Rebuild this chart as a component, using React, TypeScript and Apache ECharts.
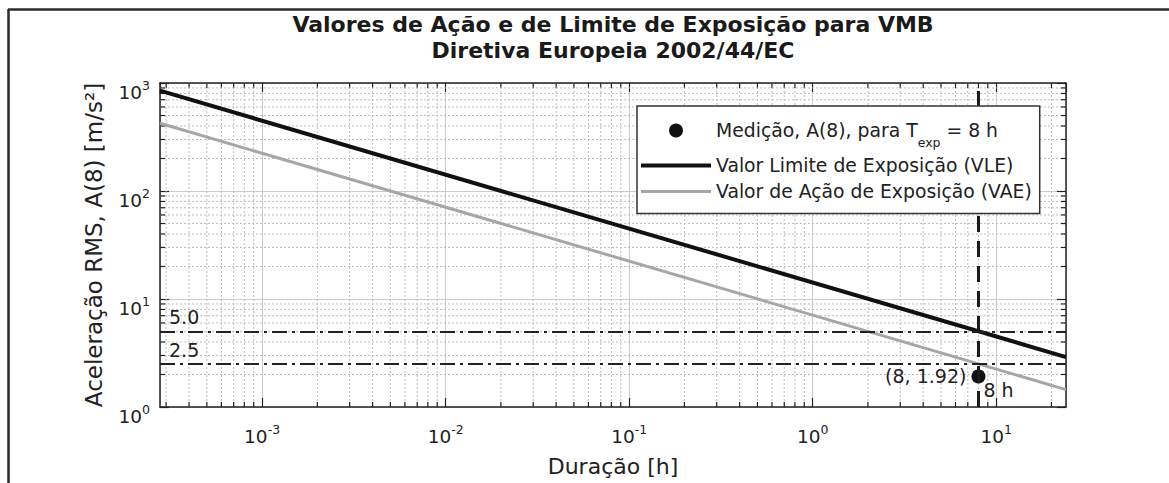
import React, { useEffect, useRef } from 'react';
import * as echarts from 'echarts';

// ---- data ----
const durationHours = [1 / 3600, 24];
const vleValues = [849, 2.9];
const vaeValues = [424, 1.45];
const measurementPoint = [8, 1.92];
const thresholdLevels = [5.0, 2.5];
const thresholdLabels = ['5.0', '2.5'];
const exposureTime = 8;
const exposureLabel = '8 h';
const xRange = [1 / 3600, 24];
const yRange = [1, 1000];
const xDecades = [1e-4, 1e-3, 1e-2, 1e-1, 1, 10];
const yDecades = [1, 10, 100];
const minorSteps = [2, 3, 4, 5, 6, 7, 8, 9];
const seriesNames = [
  'Medição, A(8), para Texp = 8 h',
  'Valor Limite de Exposição (VLE)',
  'Valor de Ação de Exposição (VAE)',
];
const titleLines = ['Valores de Ação e de Limite de Exposição para VMB', 'Diretiva Europeia 2002/44/EC'];
const xAxisName = 'Duração [h]';
const yAxisName = 'Aceleração RMS, A(8) [m/s²]';

const FONT = 'DejaVu Sans';
const INK = '#222222';

const xMinor = xDecades
  .flatMap((d) => minorSteps.map((m) => m * d))
  .filter((v) => v > xRange[0] && v < xRange[1]);
const yMinor = yDecades
  .flatMap((d) => minorSteps.map((m) => m * d))
  .filter((v) => v > yRange[0] && v < yRange[1]);

const powLabel = (v: number) => `{b|10}{s|${Math.round(Math.log10(v))}}`;

const tickRich = {
  b: { fontSize: 18.5, padding: [4, 0, 0, 0], color: INK, fontFamily: FONT },
  s: { fontSize: 12.5, verticalAlign: 'top', color: INK, fontFamily: FONT },
};

const axisLineStyle = { show: true, onZero: false, lineStyle: { color: INK, width: 1.5 } };
const axisTickStyle = { show: true, inside: true, length: 9, lineStyle: { color: INK, width: 1.2 } };
const majorGrid = { show: true, lineStyle: { color: '#cccccc', width: 1, type: 'solid' } };
const minorGridColor = '#bdbdbd';

function buildOption() {
  return {
    animation: false,
    backgroundColor: '#ffffff',
    title: {
      text: titleLines.join('\n'),
      left: 613,
      top: 11.5,
      textAlign: 'center',
      padding: 0,
      textStyle: { fontSize: 22, fontWeight: 'bold', fontFamily: FONT, color: '#1a1a1a', lineHeight: 26 },
    },
    grid: { left: 160, top: 83, right: 103, bottom: 76, containLabel: false, outerBoundsMode: 'none' },
    legend: {
      data: [
        { name: seriesNames[0], icon: 'circle' },
        { name: seriesNames[1], icon: 'path://M0,0L70,0L70,4L0,4Z' },
        { name: seriesNames[2], icon: 'path://M0,0L70,0L70,3L0,3Z' },
      ],
      z: 10,
      orient: 'vertical',
      left: 637,
      top: 106,
      padding: [6, 8, 12.5, 4],
      itemGap: 7,
      itemWidth: 70,
      itemHeight: 14,
      selectedMode: false,
      backgroundColor: '#ffffff',
      borderColor: '#333333',
      borderWidth: 1.5,
      formatter: (name: string) =>
        name === seriesNames[0] ? '{t|Medição, A(8), para T}{sub|exp}{t| = 8 h}' : `{t|${name}}`,
      textStyle: {
        fontFamily: FONT,
        fontSize: 18.8,
        color: INK,
        rich: {
          t: { fontSize: 18.8, lineHeight: 24, fontFamily: FONT, color: INK },
          sub: { fontSize: 12.5, lineHeight: 24, padding: [24, 0, 0, 0], fontFamily: FONT, color: INK },
        },
      },
    },
    xAxis: [
      {
        type: 'log',
        logBase: 10,
        min: xRange[0],
        max: xRange[1],
        position: 'bottom',
        name: xAxisName,
        nameLocation: 'middle',
        nameGap: 48,
        nameTextStyle: { fontSize: 22, fontFamily: FONT, color: INK },
        axisLine: axisLineStyle,
        axisTick: axisTickStyle,
        axisLabel: {
          formatter: powLabel,
          margin: 16,
          showMinLabel: false,
          showMaxLabel: false,
          rich: tickRich,
        },
        splitLine: majorGrid,
      },
      {
        type: 'log',
        logBase: 10,
        min: xRange[0],
        max: xRange[1],
        position: 'top',
        axisLine: axisLineStyle,
        axisTick: axisTickStyle,
        axisLabel: { show: false },
        splitLine: { show: false },
      },
    ],
    yAxis: [
      {
        type: 'log',
        logBase: 10,
        min: yRange[0],
        max: yRange[1],
        position: 'left',
        name: yAxisName,
        nameLocation: 'middle',
        nameGap: 55,
        nameTextStyle: { fontSize: 23, fontFamily: FONT, color: INK },
        axisLine: axisLineStyle,
        axisTick: axisTickStyle,
        axisLabel: { formatter: powLabel, margin: 10, padding: [14, 0, 0, 0], rich: tickRich },
        splitLine: majorGrid,
      },
      {
        type: 'log',
        logBase: 10,
        min: yRange[0],
        max: yRange[1],
        position: 'right',
        axisLine: axisLineStyle,
        axisTick: axisTickStyle,
        axisLabel: { show: false },
        splitLine: { show: false },
      },
    ],
    graphic: [
      {
        type: 'line',
        silent: true,
        shape: { x1: 8, y1: 9.5, x2: 1169, y2: 9.5 },
        style: { stroke: '#2b2b2b', lineWidth: 2.5 },
      },
      {
        type: 'line',
        silent: true,
        shape: { x1: 8.5, y1: 9, x2: 8.5, y2: 483 },
        style: { stroke: '#2b2b2b', lineWidth: 2.5 },
      },
    ],
    series: [
      {
        type: 'custom',
        silent: true,
        z: 1,
        xAxisIndex: 0,
        yAxisIndex: 0,
        data: xMinor.map((v) => [v, yRange[0]]),
        renderItem: (params: any, api: any) => {
          const cs = params.coordSys;
          const x = api.coord([api.value(0), yRange[0]])[0];
          const bottom = cs.y + cs.height;
          return {
            type: 'group',
            children: [
              { type: 'line', shape: { x1: x, y1: cs.y, x2: x, y2: bottom }, style: { stroke: minorGridColor, lineWidth: 1, lineDash: [2, 2] } },
              { type: 'line', shape: { x1: x, y1: bottom, x2: x, y2: bottom - 5 }, style: { stroke: INK, lineWidth: 1.2 } },
              { type: 'line', shape: { x1: x, y1: cs.y, x2: x, y2: cs.y + 5 }, style: { stroke: INK, lineWidth: 1.2 } },
            ],
          };
        },
      },
      {
        type: 'custom',
        silent: true,
        z: 1,
        xAxisIndex: 0,
        yAxisIndex: 0,
        data: yMinor.map((v) => [xRange[0], v]),
        renderItem: (params: any, api: any) => {
          const cs = params.coordSys;
          const y = api.coord([xRange[0], api.value(1)])[1];
          const right = cs.x + cs.width;
          return {
            type: 'group',
            children: [
              { type: 'line', shape: { x1: cs.x, y1: y, x2: right, y2: y }, style: { stroke: minorGridColor, lineWidth: 1, lineDash: [2, 2] } },
              { type: 'line', shape: { x1: cs.x, y1: y, x2: cs.x + 5, y2: y }, style: { stroke: INK, lineWidth: 1.2 } },
              { type: 'line', shape: { x1: right, y1: y, x2: right - 5, y2: y }, style: { stroke: INK, lineWidth: 1.2 } },
            ],
          };
        },
      },
      {
        name: seriesNames[1],
        type: 'line',
        z: 3,
        symbol: 'none',
        data: durationHours.map((d, i) => [d, vleValues[i]]),
        lineStyle: { color: '#111111', width: 4 },
        itemStyle: { color: '#111111' },
      },
      {
        name: seriesNames[2],
        type: 'line',
        z: 3,
        symbol: 'none',
        data: durationHours.map((d, i) => [d, vaeValues[i]]),
        lineStyle: { color: '#a6a6a6', width: 3 },
        itemStyle: { color: '#a6a6a6' },
      },
      {
        name: seriesNames[0],
        type: 'scatter',
        z: 3,
        symbol: 'circle',
        symbolSize: 14,
        data: [measurementPoint],
        itemStyle: { color: '#111111', opacity: 1 },
        label: {
          show: true,
          position: 'left',
          distance: 5,
          formatter: (p: any) => `(${p.value[0]}, ${p.value[1]})`,
          fontSize: 19,
          fontFamily: FONT,
          color: INK,
        },
        markLine: {
          silent: true,
          symbol: ['none', 'none'],
          data: [
            ...thresholdLevels.map((v, i) => ({
              yAxis: v,
              lineStyle: { type: [15, 5, 3, 5], width: 2, color: '#222222' },
              label: {
                show: true,
                position: 'insideStartTop',
                formatter: thresholdLabels[i],
                fontSize: 19,
                fontFamily: FONT,
                color: INK,
                padding: [0, 0, 0, 4],
              },
            })),
            {
              xAxis: exposureTime,
              lineStyle: { type: [16, 9], width: 3, color: '#1a1a1a' },
              label: { show: false },
            },
          ],
        },
        markPoint: {
          symbol: 'circle',
          symbolSize: 0,
          silent: true,
          data: [
            {
              coord: [exposureTime, yRange[0]],
              label: {
                show: true,
                formatter: exposureLabel,
                position: 'right',
                distance: 5,
                offset: [0, -17],
                fontSize: 19,
                fontFamily: FONT,
                color: INK,
              },
            },
          ],
        },
      },
    ],
  };
}

export default function App() {
  const ref = useRef<HTMLDivElement>(null);
  useEffect(() => {
    if (!ref.current) return;
    const chart = echarts.init(ref.current, null, { renderer: 'svg' });
    chart.setOption(buildOption() as any);
    return () => chart.dispose();
  }, []);
  return (
    <div
      ref={ref}
      style={{ position: 'fixed', left: 0, top: 0, width: 1169, height: 483, background: '#ffffff' }}
    />
  );
}
